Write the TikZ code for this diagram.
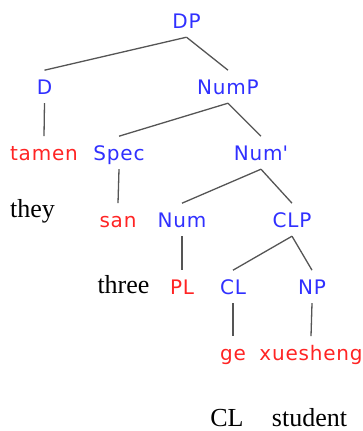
\documentclass[tikz,border=0pt]{standalone}
\usepackage{fontspec}
\setmainfont{Liberation Serif}
\newfontfamily\treefont{DejaVu Sans}[LetterSpace=4]
\definecolor{catblue}{HTML}{3030FF}
\definecolor{wdred}{HTML}{FF2424}
\definecolor{brgray}{HTML}{555555}
\begin{document}
\begin{tikzpicture}[x=1pt, y=-1pt]
\tikzstyle{lbl}=[anchor=base, inner xsep=0pt, inner ysep=9pt, text height=14.6pt, text depth=0pt, font=\treefont\fontsize{20}{24}\selectfont]
\tikzstyle{cat}=[lbl, text=catblue]
\tikzstyle{wd}=[lbl, text=wdred]
\tikzstyle{gl}=[anchor=base, inner sep=0pt, font=\fontsize{26}{30}\selectfont]
\tikzstyle{br}=[draw=brgray, line width=1.3pt]
\useasboundingbox (0,0) rectangle (362,431);

\node[cat] (DP) at (186.5,28) {DP};
\node[cat] (D) at (44.5,94) {D};
\node[cat] (NumP) at (228,94) {NumP};
\node[wd] (tamen) at (44,160) {tamen};
\node[cat] (Spec) at (119,160) {Spec};
\node[cat] (NumB) at (261,160) {Num\textquotesingle};
\node[wd] (san) at (118,227) {san};
\node[cat] (Num) at (182,227) {Num};
\node[cat] (CLP) at (292,227) {CLP};
\node[wd] (PL) at (182,294) {PL};
\node[cat] (CL) at (233,294) {CL};
\node[cat] (NP) at (312,294) {NP};
\node[wd] (ge) at (233,360) {ge};
\node[wd] (xuesheng) at (311,360) {xuesheng};

\node[gl] (they) at (32.5,217) {they};
\node[gl] (three) at (123.5,293) {three};
\node[gl] (glCL) at (227,426) {CL};
\node[gl] (student) at (309.5,426) {student};

\draw[br] (DP.south) -- (D.north);
\draw[br] (DP.south) -- (NumP.north);
\draw[br] (D.south) -- (tamen.north);
\draw[br] (NumP.south) -- (Spec.north);
\draw[br] (NumP.south) -- (NumB.north);
\draw[br] (Spec.south) -- (san.north);
\draw[br] (NumB.south) -- (Num.north);
\draw[br] (NumB.south) -- (CLP.north);
\draw[br] (Num.south) -- (PL.north);
\draw[br] (CLP.south) -- (CL.north);
\draw[br] (CLP.south) -- (NP.north);
\draw[br] (CL.south) -- (ge.north);
\draw[br] (NP.south) -- (xuesheng.north);
\end{tikzpicture}
\end{document}
